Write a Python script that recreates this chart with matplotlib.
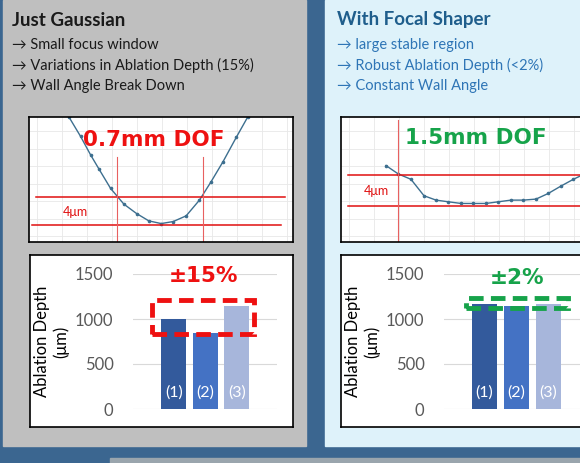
import matplotlib.pyplot as plt
from matplotlib.patches import Rectangle

W, H = 580, 463
plt.rcParams['font.family'] = ['Lato', 'DejaVu Sans']

# ── data ─────────────────────────────────────────────────────────────────────
gauss_x = [205, 240, 270, 295, 330, 370, 408, 445, 482, 518, 557, 597, 632, 668, 708, 742]
gauss_y = [52, 110, 165, 207, 265, 312, 340, 362, 370, 364, 347, 300, 245, 185, 112, 52]
shaper_x = [168, 205, 243, 282, 318, 355, 393, 430, 468, 505, 543, 580, 618, 655, 693, 730, 755]
shaper_y = [197, 222, 238, 287, 300, 305, 310, 310, 310, 305, 300, 300, 297, 280, 258, 238, 226]

bar_labels = ["(1)", "(2)", "(3)"]
gauss_depth = [1000, 850, 1150]
shaper_depth = [1170, 1150, 1170]
depth_ticks = [0, 500, 1000, 1500]
bar_colors = ["#335a9c", "#4472c4", "#a7b6db"]

fig = plt.figure(figsize=(W / 100, H / 100), dpi=100)
fig.patch.set_facecolor("#3b6690")


def px_axes(x0, y0, x1, y1, **kw):
    return fig.add_axes([x0 / W, 1 - y1 / H, (x1 - x0) / W, (y1 - y0) / H], **kw)


# background panels
bg = px_axes(0, 0, W, H)
bg.set_xlim(0, W); bg.set_ylim(H, 0); bg.axis("off")
bg.add_patch(Rectangle((3, 0), 303, 446, color="#bfbfbf"))
bg.add_patch(Rectangle((325, 0), 255, 446, color="#def2fa"))
bg.add_patch(Rectangle((110, 458), 470, 5, color="#9aa5ad"))

bg.text(12, 20, "Just Gaussian", fontsize=13.5, fontweight="bold", color="#1a1a1a", va="center")
for i, t in enumerate(["Small focus window", "Variations in Ablation Depth (15%)", "Wall Angle Break Down"]):
    bg.text(12, 45 + 20.5 * i, "→ " + t, fontsize=10.5, color="#1a1a1a", va="center")
bg.text(337, 20, "With Focal Shaper", fontsize=13.5, fontweight="bold", color="#1f5e8c", va="center")
for i, t in enumerate(["large stable region", "Robust Ablation Depth (<2%)", "Constant Wall Angle"]):
    bg.text(337, 45 + 20.5 * i, "→ " + t, fontsize=10.5, color="#2e75b6", va="center")

BOLD = ["DejaVu Sans"]


def curve_panel(box, xlim, xs, ys, hlines, vlines, label, lcolor, title_xy, um_xy):
    ax = px_axes(*box)
    ax.set_facecolor("white")
    ax.set_xlim(*xlim); ax.set_ylim(425, 52)
    ax.set_xticks(range(int(xlim[0]) + 25, int(xlim[1]), 75))
    ax.set_yticks(range(95, 425, 52))
    ax.grid(True, color="#e8e8e8", lw=0.6)
    ax.tick_params(length=0, labelbottom=False, labelleft=False)
    for s in ax.spines.values():
        s.set_color("black"); s.set_linewidth(1.2)
    ax.plot(xs, ys, color="#3d6f8f", lw=1, marker="o", ms=1.6)
    for y, x0, x1 in hlines:
        ax.plot([x0, x1], [y, y], color="#e01010", lw=1.1)
    for x, y0 in vlines:
        ax.plot([x, x], [y0, 425], color="#e86060", lw=0.8)
    ax.text(*title_xy, label, color=lcolor, fontsize=15.5, fontweight="bold", ha="center",
            va="center", family=BOLD)
    ax.text(*um_xy, "4μm", color="#e01010", fontsize=9, ha="center", va="center")


curve_panel((29, 117, 293, 242), (85, 878), gauss_x, gauss_y,
            [(290, 105, 855), (373, 95, 843)], [(350, 170), (607, 170)],
            "0.7mm DOF", "#ee1111", (460, 120), (225, 335))
curve_panel((341, 117, 585, 242), (33, 765), shaper_x, shaper_y,
            [(226, 55, 765), (317, 55, 765)], [(205, 60)],
            "1.5mm DOF", "#16a34a", (437, 115), (140, 272))


def bar_panel(box, axbox, xlim, vals, rect, rcolor, label, label_y):
    frame = px_axes(*box)
    frame.set_facecolor("white")
    frame.set_xticks([]); frame.set_yticks([])
    for s in frame.spines.values():
        s.set_color("black"); s.set_linewidth(1.2)
    ax = px_axes(*axbox)
    ax.patch.set_alpha(0)
    ax.set_xlim(*xlim); ax.set_ylim(0, 1500)
    ax.set_yticks(depth_ticks)
    ax.yaxis.grid(True, color="#d9d9d9", lw=0.8)
    ax.set_axisbelow(True)
    for s in ax.spines.values():
        s.set_visible(False)
    ax.tick_params(length=0, labelsize=12, labelcolor="#595959", pad=14, labelbottom=False)
    ax.set_ylabel("Ablation Depth\n(μm)", fontsize=12, color="black", labelpad=4)
    xs = range(len(vals))
    ax.bar(xs, vals, width=0.8, color=bar_colors)
    for x, t in zip(xs, bar_labels):
        ax.text(x, 180, t, color="white", fontsize=11.5, ha="center", va="center")
    x0, y0, x1, y1 = rect
    ax.add_patch(Rectangle((x0, y0), x1 - x0, y1 - y0, fill=False, ec=rcolor,
                           lw=3.5, ls=(0, (3, 1.5)), clip_on=False, zorder=3))
    ax.text((x0 + x1) / 2, label_y, label, color=rcolor, fontsize=15.5, fontweight="bold",
            ha="center", va="center", clip_on=False, family=BOLD)


bar_panel((30, 255, 293, 427), (133, 274, 277, 409), (-1.29, 3.28), gauss_depth,
          (-0.68, 830, 2.56, 1215), "#ee1111", "±15%", 1480)
bar_panel((341, 255, 585, 427), (444, 274, 600, 409), (-1.27, 3.61), shaper_depth,
          (-0.58, 1125, 2.6, 1235), "#16a34a", "±2%", 1450)

fig.savefig("out.png", dpi=100, facecolor=fig.get_facecolor())
